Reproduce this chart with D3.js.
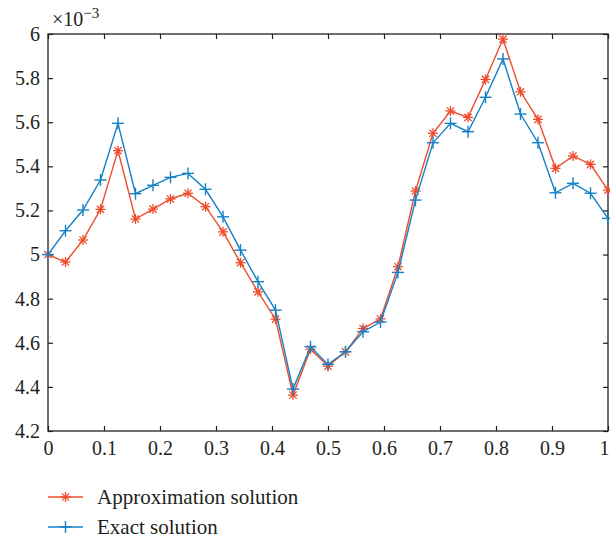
<!DOCTYPE html>
<html><head><meta charset="utf-8">
<script src="https://cdn.jsdelivr.net/npm/d3@7"></script>
<style>body{margin:0;background:#fff}svg{display:block}text{font-family:"Liberation Serif","Times New Roman",serif;fill:#231f20}</style>
</head><body><svg id="c" width="610" height="544"></svg>
<script>
const xValues = d3.range(33).map(i => i / 32);
const approxValues = [5.000,4.966,5.066,5.205,5.471,5.161,5.206,5.252,5.278,5.217,5.103,4.963,4.831,4.707,4.363,4.571,4.494,4.559,4.665,4.708,4.945,5.288,5.550,5.651,5.622,5.794,5.977,5.738,5.613,5.391,5.447,5.409,5.292];
const exactValues  = [5.000,5.108,5.202,5.338,5.595,5.276,5.314,5.350,5.368,5.296,5.171,5.020,4.877,4.748,4.390,4.582,4.502,4.559,4.650,4.694,4.919,5.247,5.507,5.595,5.557,5.713,5.887,5.637,5.507,5.280,5.323,5.278,5.164];
const xTicks = [0,0.1,0.2,0.3,0.4,0.5,0.6,0.7,0.8,0.9,1];
const yTicks = [4.2,4.4,4.6,4.8,5,5.2,5.4,5.6,5.8,6];
const seriesNames = ["Approximation solution","Exact solution"];
const colors = ["#ee4b2b","#1580c6"];

const svg = d3.select("#c");
const L = 48, R = 608, T = 34, B = 431;
const x = d3.scaleLinear().domain([0,1]).range([L,R]);
const y = d3.scaleLinear().domain([4.2,6]).range([B,T]);
const axisColor = "#231f20";

svg.append("rect").attr("x",L).attr("y",T).attr("width",R-L).attr("height",B-T)
  .attr("fill","none").attr("stroke",axisColor).attr("stroke-width",1.3);

const fmt = d => d3.format("")(+d.toFixed(1));
const gx = svg.append("g").attr("transform",`translate(0,${B})`)
  .call(d3.axisBottom(x).tickValues(xTicks).tickSize(-5).tickPadding(10).tickFormat(fmt));
const gxt = svg.append("g").attr("transform",`translate(0,${T})`)
  .call(d3.axisTop(x).tickValues(xTicks).tickSize(-5).tickFormat(""));
const gy = svg.append("g").attr("transform",`translate(${L},0)`)
  .call(d3.axisLeft(y).tickValues(yTicks).tickSize(-5).tickPadding(8).tickFormat(fmt));
const gyr = svg.append("g").attr("transform",`translate(${R},0)`)
  .call(d3.axisRight(y).tickValues(yTicks).tickSize(-5).tickFormat(""));
[gx,gxt,gy,gyr].forEach(g=>{
  g.select(".domain").remove();
  g.selectAll(".tick line").attr("stroke",axisColor).attr("stroke-width",1.2);
  g.selectAll("text").attr("font-size",20).attr("fill",axisColor)
   .style("font-family",'"Liberation Serif",serif');
});
gx.selectAll(".tick text").filter(d=>d===1).attr("text-anchor","end").attr("dx",1);

const ex = svg.append("text").attr("x",52).attr("y",26).attr("font-size",20);
ex.append("tspan").text("×10");
ex.append("tspan").attr("dy",-8).attr("font-size",15).text("−3");

const line = d3.line().x((d,i)=>x(xValues[i])).y(d=>y(d));
const data = [approxValues, exactValues];

function star(g, cx, cy, r, color){
  const p = [[0,-r,0,r],[-r,0,r,0],[-r*0.72,-r*0.72,r*0.72,r*0.72],[-r*0.72,r*0.72,r*0.72,-r*0.72]];
  p.forEach(a=>g.append("line").attr("x1",cx+a[0]).attr("y1",cy+a[1]).attr("x2",cx+a[2]).attr("y2",cy+a[3])
    .attr("stroke",color).attr("stroke-width",1.3));
}
function plus(g, cx, cy, r, color){
  g.append("line").attr("x1",cx-r).attr("y1",cy).attr("x2",cx+r).attr("y2",cy).attr("stroke",color).attr("stroke-width",1.4);
  g.append("line").attr("x1",cx).attr("y1",cy-r).attr("x2",cx).attr("y2",cy+r).attr("stroke",color).attr("stroke-width",1.4);
}

data.forEach((vals,k)=>{
  svg.append("path").datum(vals).attr("d",line).attr("fill","none")
    .attr("stroke",colors[k]).attr("stroke-width",1.4);
  const g = svg.append("g");
  vals.forEach((v,i)=>{
    if(k===0) star(g, x(xValues[i]), y(v), 5, colors[k]);
    else plus(g, x(xValues[i]), y(v), 6, colors[k]);
  });
});

const legY = [497, 527];
seriesNames.forEach((n,k)=>{
  const g = svg.append("g");
  g.append("line").attr("x1",48).attr("x2",83).attr("y1",legY[k]).attr("y2",legY[k])
    .attr("stroke",colors[k]).attr("stroke-width",1.4);
  if(k===0) star(g, 65.5, legY[k], 5, colors[k]); else plus(g, 65.5, legY[k], 6, colors[k]);
  g.append("text").attr("x",97).attr("y",legY[k]+7).attr("font-size",21).text(n);
});
</script></body></html>
